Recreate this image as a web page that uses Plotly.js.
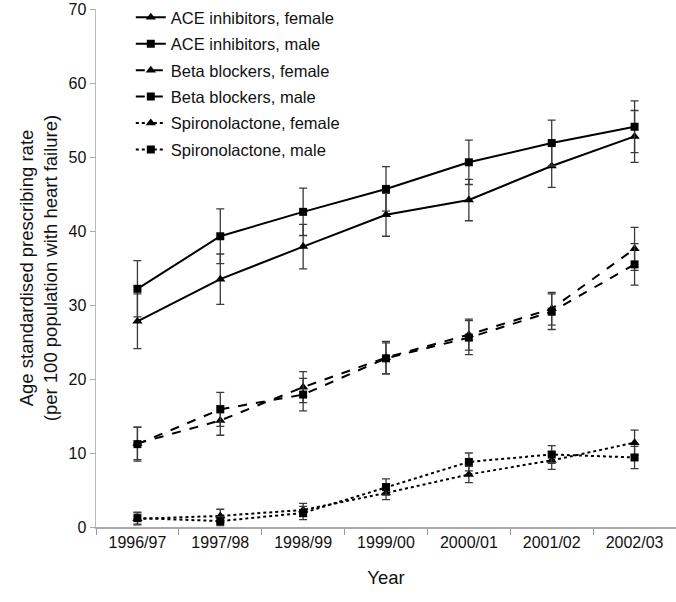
<!DOCTYPE html>
<html>
<head>
<meta charset="utf-8">
<script src="https://cdn.plot.ly/plotly-3.0.1.min.js"></script>
<style>html,body{margin:0;padding:0;background:#fff;}#chart{width:676px;height:602px;}</style>
</head>
<body>
<div id="chart"></div>
<script>
const years = ["1996/97","1997/98","1998/99","1999/00","2000/01","2001/02","2002/03"];

const aceFemale    = [27.8, 33.5, 37.9, 42.2, 44.2, 48.8, 52.8];
const aceFemaleErr = [3.7, 3.4, 3.0, 2.9, 2.8, 2.9, 3.5];
const aceMale      = [32.2, 39.3, 42.6, 45.7, 49.3, 51.9, 54.1];
const aceMaleErr   = [3.8, 3.7, 3.2, 3.0, 3.0, 3.1, 3.5];
const betaFemale    = [11.3, 14.4, 18.9, 22.9, 26.0, 29.5, 37.6];
const betaFemaleErr = [2.2, 2.0, 2.1, 2.2, 2.1, 2.2, 2.9];
const betaMale      = [11.2, 15.9, 17.9, 22.8, 25.6, 29.1, 35.5];
const betaMaleErr   = [2.3, 2.3, 2.2, 2.1, 2.3, 2.4, 2.8];
const spiroFemale    = [1.1, 1.5, 2.3, 4.6, 7.1, 9.0, 11.4];
const spiroFemaleErr = [0.8, 0.9, 0.9, 0.9, 1.1, 1.2, 1.7];
const spiroMale      = [1.2, 0.8, 1.9, 5.4, 8.8, 9.8, 9.4];
const spiroMaleErr   = [0.8, 0.6, 0.9, 1.1, 1.2, 1.2, 1.5];

const seriesNames = ["ACE inhibitors, female","ACE inhibitors, male","Beta blockers, female","Beta blockers, male","Spironolactone, female","Spironolactone, male"];
const yTickVals = [0, 10, 20, 30, 40, 50, 60, 70];

function mk(i, y, err, dash, symbol) {
  return {
    type: "scatter", mode: "lines+markers", name: seriesNames[i], legendgroup: "g" + i,
    x: years, y: y,
    line: {color: "#000", width: 2, dash: dash},
    marker: {color: "#000", symbol: symbol, size: symbol === "triangle-up" ? 9 : 8},
    error_y: {type: "data", array: err, visible: true, color: "#3a3a3a", thickness: 1.3, width: 4}
  };
}

const data = [
  mk(0, aceFemale, aceFemaleErr, "solid", "triangle-up"),
  mk(1, aceMale, aceMaleErr, "solid", "square"),
  mk(2, betaFemale, betaFemaleErr, "dash", "triangle-up"),
  mk(3, betaMale, betaMaleErr, "dash", "square"),
  mk(4, spiroFemale, spiroFemaleErr, "dot", "triangle-up"),
  mk(5, spiroMale, spiroMaleErr, "dot", "square")
];

const layout = {
  width: 676, height: 602,
  margin: {l: 96, r: 0, t: 8, b: 75},
  paper_bgcolor: "#fff", plot_bgcolor: "#fff",
  font: {family: "Liberation Sans, Arial, sans-serif", color: "#111", size: 16},
  showlegend: true,
  legend: {x: 0.06, y: 1.017, xanchor: "left", yanchor: "top", bgcolor: "rgba(0,0,0,0)",
           font: {size: 16.5, color: "#111"}, tracegroupgap: 2},
  xaxis: {
    type: "category", range: [-0.5, 6.5],
    showline: true, linecolor: "#aaa", linewidth: 1.5,
    ticks: "outside", tickson: "boundaries", ticklen: 6, tickcolor: "#999",
    showgrid: false, zeroline: false,
    tickfont: {size: 16, color: "#111"},
    title: {text: "Year", font: {size: 18.5, color: "#111"}, standoff: 21}
  },
  yaxis: {
    range: [0, 70.02], tickmode: "array", tickvals: yTickVals,
    ticklabeloverflow: "allow",
    showline: true, linecolor: "#bbb", linewidth: 1.5,
    ticks: "outside", ticklen: 5, tickcolor: "#aaa",
    showgrid: false, zeroline: false,
    tickfont: {size: 16, color: "#111"},
    title: {text: "Age standardised prescribing rate<br>(per 100 population with heart failure)", font: {size: 18.5, color: "#111"}, standoff: 6}
  }
};

Plotly.newPlot("chart", data, layout, {displayModeBar: false, staticPlot: true});
</script>
</body>
</html>
